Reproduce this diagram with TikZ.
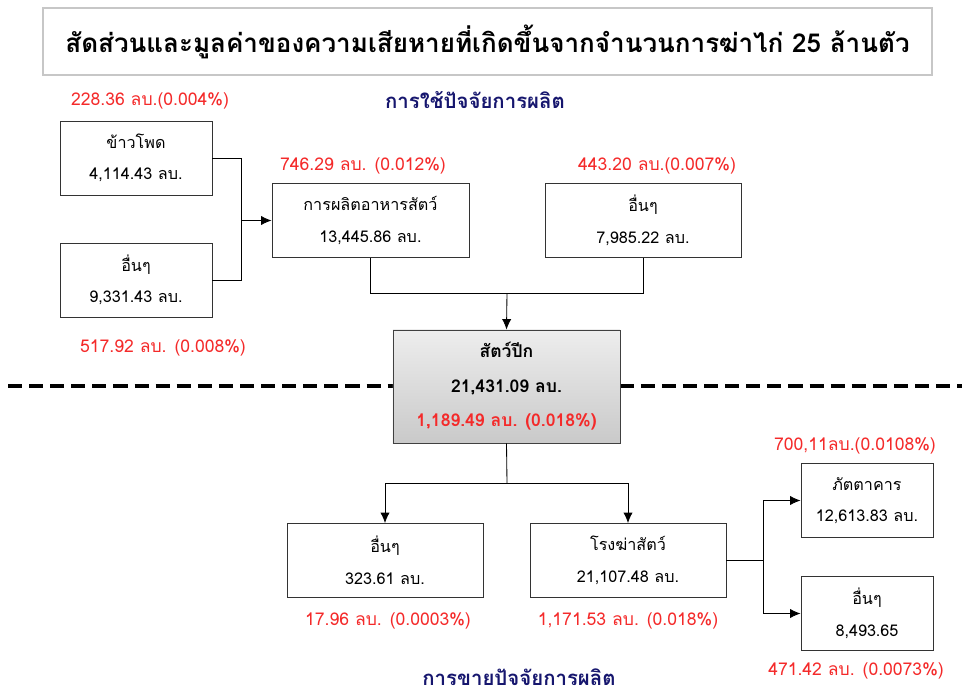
\documentclass[tikz,border=0pt]{standalone}
\usepackage{fontspec}
\setmainfont[Script=Thai]{Loma}
\usepackage{tikz}
\usetikzlibrary{positioning,
        arrows.meta}
\usepackage{xcolor}
\definecolor{lossred}{HTML}{F42A2A}
\definecolor{headblue}{HTML}{16166E}

\begin{document}
\begin{tikzpicture}[x=0.025cm,y=-0.025cm,
            box/.style={draw=black!80,line width=0.6pt,fill=white,minimum height=1.85cm,align=center,font=\fontsize{11.5}{22.5}\selectfont},
            loss/.style={text=lossred,font=\fontsize{12.5}{15}\selectfont},
            head/.style={text=headblue,font=\fontsize{14.5}{16}\selectfont\bfseries},
            line/.style={line width=0.6pt},
            arr/.style={line width=0.6pt,-{Latex[length=2.6mm,width=2.3mm]}}]
            \useasboundingbox (0,0) rectangle (962,693);

            % title and the two headings
            \node [draw=black!22,line width=1pt,minimum width=22.225cm,minimum height=1.675cm,font=\fontsize{18.5}{22}\selectfont\bfseries] (title) at (487.5,41.5) {สัดส่วนและมูลค่าของความเสียหายที่เกิดขึ้นจากจำนวนการฆ่าไก่ 25 ล้านตัว};
            \node [head] (use) at (475,100) {การใช้ปัจจัยการผลิต};
            \node [head] (sale) at (519,677) {การขายปัจจัยการผลิต};

            % dashed split line
            \draw [line width=2.2pt,dash pattern=on 10pt off 5pt] (8,386) -- (962,386);

            % input side
            \node [box,minimum width=3.8cm] (corn) at (136,158) {ข้าวโพด\\4,114.43 ลบ.};
            \node [box,minimum width=3.8cm] (other1) at (136,280) {อื่นๆ\\9,331.43 ลบ.};
            \node [box,minimum width=4.925cm] (feed) at (370.5,220.5) {การผลิตอาหารสัตว์\\13,445.86 ลบ.};
            \node [box,minimum width=4.9cm] (other2) at (643,220.5) {อื่นๆ\\7,985.22 ลบ.};

            \node [loss] (corn loss) at (150,101) {228.36 ลบ.(0.004\%)};
            \node [loss] (other1 loss) at (163,348) {517.92 ลบ. (0.008\%)};
            \node [loss] (feed loss) at (363,166) {746.29 ลบ. (0.012\%)};
            \node [loss] (other2 loss) at (657,166) {443.20 ลบ.(0.007\%)};

            % poultry
            \node [draw=black!75,line width=0.6pt,top color=gray!14,bottom color=gray!42,minimum width=5.675cm,minimum height=2.825cm,align=center,font=\fontsize{12.5}{24.5}\selectfont\bfseries] (poultry) at (506.5,386.5) {สัตว์ปีก\\21,431.09 ลบ.\\\textcolor{lossred}{1,189.49 ลบ. (0.018\%)}};

            % output side
            \node [box,minimum width=4.9cm] (other3) at (385,560.5) {อื่นๆ\\323.61 ลบ.};
            \node [box,minimum width=4.9cm] (slaughter) at (628,560.5) {โรงฆ่าสัตว์\\21,107.48 ลบ.};
            \node [box,minimum width=3.3cm] (rest) at (867,500.5) {ภัตตาคาร\\12,613.83 ลบ.};
            \node [box,minimum width=3.3cm] (other4) at (867,613.5) {อื่นๆ\\8,493.65};

            \node [loss] (other3 loss) at (388,621) {17.96 ลบ. (0.0003\%)};
            \node [loss] (slaughter loss) at (628,621) {1,171.53 ลบ. (0.018\%)};
            \node [loss] (rest loss) at (855,446) {700,11ลบ.(0.0108\%)};
            \node [loss] (other4 loss) at (856,671) {471.42 ลบ. (0.0073\%)};

            % connectors
            \coordinate (j1) at (241,220.5);
            \coordinate (j2) at (507,293);
            \coordinate (j3) at (507,483);
            \coordinate (j4) at (763,560.5);

            \draw [line] (corn.east) -| (j1);
            \draw [line] (other1.east) -| (j1);
            \draw [arr] (j1) -- (feed.west);
            \draw [line] (feed.south) |- (j2);
            \draw [line] (other2.south) |- (j2);
            \draw [arr] (j2) -- (poultry.north);
            \draw [line] (poultry.south) -- (j3);
            \draw [arr] (j3) -| (other3.north);
            \draw [arr] (j3) -| (slaughter.north);
            \draw [line] (slaughter.east) -- (j4);
            \draw [arr] (j4) |- (rest.west);
            \draw [arr] (j4) |- (other4.west);
        \end{tikzpicture}
\end{document}
